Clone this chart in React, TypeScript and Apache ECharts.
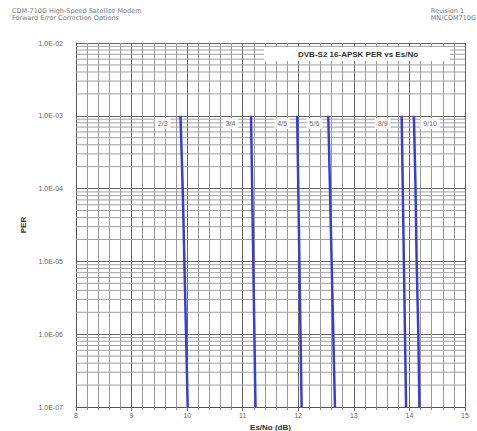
import React, { useEffect, useRef } from "react";
import * as echarts from "echarts";

const rates = ["2/3", "3/4", "4/5", "5/6", "8/9", "9/10"];
const perLevels = [1e-3, 1e-4, 1e-5, 1e-6, 1e-7];
const esnoCurves = [
  [9.88, 9.92, 9.95, 9.98, 10.01],
  [11.15, 11.17, 11.19, 11.21, 11.23],
  [11.98, 12.0, 12.02, 12.04, 12.06],
  [12.54, 12.57, 12.6, 12.63, 12.66],
  [13.86, 13.88, 13.9, 13.92, 13.94],
  [14.08, 14.11, 14.13, 14.16, 14.18],
];
const labelX = [9.56, 10.78, 11.71, 12.29, 13.52, 14.37];
const labelPer = 7.8e-4;
const decades = [1e-7, 1e-6, 1e-5, 1e-4, 1e-3];
const minorMultipliers = [2, 3, 4, 5, 6, 7, 8, 9];
const xRange = [8, 15];

function fmtY(v: number) {
  const e = Math.round(Math.log10(v));
  const abs = Math.abs(e);
  return "1.0E" + (e < 0 ? "-" : "+") + (abs < 10 ? "0" + abs : String(abs));
}

export default function App() {
  const ref = useRef<HTMLDivElement>(null);
  useEffect(() => {
    if (!ref.current) return;
    const chart = echarts.init(ref.current, undefined, { renderer: "svg" });
    const series: any[] = [];
    decades.forEach((d) =>
      minorMultipliers.forEach((m) => {
        const v = d * m;
        series.push({
          type: "line",
          silent: true,
          showSymbol: false,
          z: 1,
          data: [
            [xRange[0], v],
            [xRange[1], v],
          ],
          lineStyle: { color: "#a0a0a0", width: 1 },
        });
      })
    );
    esnoCurves.forEach((xs, i) =>
      series.push({
        name: rates[i],
        type: "line",
        data: xs.map((x, j) => [x, perLevels[j]]),
        showSymbol: false,
        smooth: true,
        z: 5,
        lineStyle: { color: "#3c3cd4", width: 2.5 },
      })
    );
    series.push({
      type: "scatter",
      data: labelX.map((x, i) => [x, labelPer, rates[i]]),
      symbolSize: 0,
      z: 10,
      label: {
        show: true,
        position: "inside",
        formatter: (p: any) => p.data[2],
        fontSize: 7,
        color: "#444",
        backgroundColor: "#fff",
        padding: [2, 3],
        fontFamily: "Liberation Sans",
      },
    });
    const hdr = { fontSize: 6.5, fontWeight: "normal", color: "#777", lineHeight: 7, fontFamily: "DejaVu Sans" };
    chart.setOption({
      animation: false,
      backgroundColor: "#fff",
      title: [
        {
          text: "CDM-710G High-Speed Satellite Modem\nForward Error Correction Options",
          left: 12,
          top: 7,
          padding: 0,
          textStyle: hdr,
        },
        {
          text: "Revision 1\nMN/CDM710G",
          right: 1,
          top: 7,
          padding: 0,
          textStyle: { ...hdr, align: "right" },
        },
        {
          text: "DVB-S2 16-APSK PER vs Es/No",
          left: 264,
          top: 47,
          padding: [3, 32, 3, 34],
          backgroundColor: "#fff",
          textStyle: { fontSize: 8, fontWeight: "bold", color: "#333", fontFamily: "Liberation Sans" },
        },
      ],
      grid: { left: 76, right: 12, top: 43, bottom: 24, outerBoundsMode: "none", containLabel: false },
      xAxis: {
        type: "value",
        min: xRange[0],
        max: xRange[1],
        interval: 1,
        name: "Es/No (dB)",
        nameLocation: "middle",
        nameGap: 11,
        nameTextStyle: { fontSize: 8, fontWeight: "bold", color: "#333", fontFamily: "Liberation Sans" },
        axisLine: { lineStyle: { color: "#555" } },
        axisTick: { show: true, length: 4, lineStyle: { color: "#666" } },
        minorTick: { show: true, splitNumber: 5, length: 3, lineStyle: { color: "#888" } },
        axisLabel: { fontSize: 7, color: "#666", margin: 5, fontFamily: "Liberation Sans" },
        splitLine: { show: true, lineStyle: { color: "#666", width: 1 } },
        minorSplitLine: { show: true, lineStyle: { color: "#9a9a9a", width: 1 } },
      },
      yAxis: {
        type: "log",
        logBase: 10,
        min: 1e-7,
        max: 1e-2,
        name: "PER",
        nameLocation: "middle",
        nameGap: 46,
        nameRotate: 90,
        nameTextStyle: { fontSize: 8, fontWeight: "bold", color: "#333", fontFamily: "Liberation Sans" },
        axisLine: { show: true, lineStyle: { color: "#555" } },
        axisTick: { show: false },
        axisLabel: { fontSize: 7, color: "#666", margin: 13, formatter: fmtY, fontFamily: "Liberation Sans" },
        splitLine: { show: true, lineStyle: { color: "#666", width: 1 } },
      },
      series,
    });
    return () => chart.dispose();
  }, []);
  return <div ref={ref} style={{ width: 477, height: 431, position: "absolute", left: 0, top: 0 }} />;
}
